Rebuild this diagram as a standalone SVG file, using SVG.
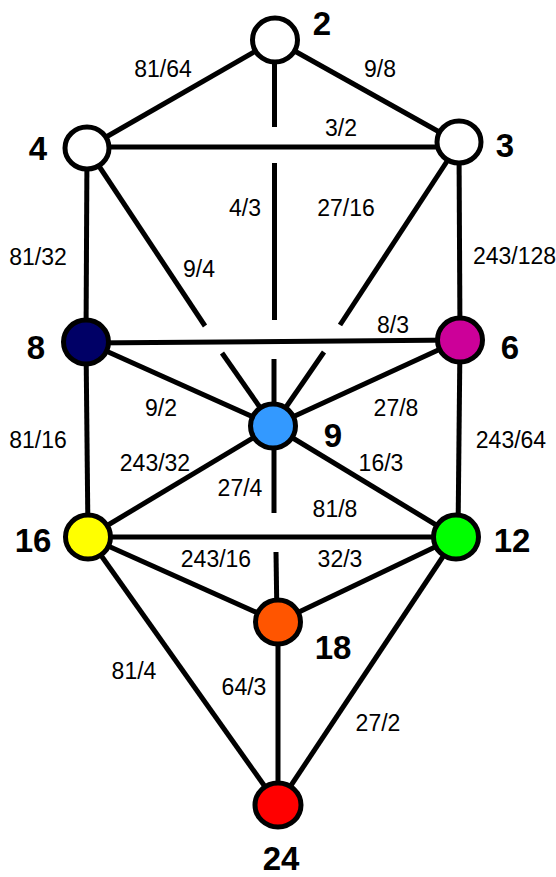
<svg xmlns="http://www.w3.org/2000/svg" width="556" height="877" viewBox="0 0 556 877">
<style>
.e{stroke:#000;stroke-width:5;fill:none;stroke-linecap:butt}
.n{stroke:#000;stroke-width:5}
.nl{font-family:"Liberation Sans",Arial,sans-serif;font-weight:bold;font-size:33px;fill:#000;text-anchor:middle}
.el{font-family:"Liberation Sans",Arial,sans-serif;font-size:23px;fill:#000;text-anchor:middle}
</style>
<rect width="556" height="877" fill="#fff"/>
<g id="connectors">
<line class="e" x1="275" y1="40" x2="87" y2="148"/>
<line class="e" x1="275" y1="40" x2="459" y2="143"/>
<line class="e" x1="87" y1="147" x2="459" y2="147"/>
<line class="e" x1="274.5" y1="40" x2="274.5" y2="127"/>
<line class="e" x1="274.5" y1="163" x2="274.5" y2="320"/>
<line class="e" x1="274" y1="359" x2="274" y2="426"/>
<line class="e" x1="87" y1="148" x2="205" y2="326"/>
<line class="e" x1="222" y1="353" x2="273" y2="426"/>
<line class="e" x1="459" y1="143" x2="340" y2="325"/>
<line class="e" x1="324" y1="352" x2="273" y2="426"/>
<line class="e" x1="87" y1="148" x2="86" y2="342"/>
<line class="e" x1="459" y1="143" x2="460" y2="340"/>
<line class="e" x1="86" y1="343" x2="460" y2="340"/>
<line class="e" x1="86" y1="342" x2="273" y2="426"/>
<line class="e" x1="460" y1="340" x2="273" y2="426"/>
<line class="e" x1="86" y1="342" x2="88" y2="537"/>
<line class="e" x1="460" y1="340" x2="458" y2="537"/>
<line class="e" x1="273" y1="426" x2="88" y2="537"/>
<line class="e" x1="273" y1="426" x2="456" y2="537"/>
<line class="e" x1="274" y1="426" x2="274" y2="513"/>
<line class="e" x1="276" y1="552" x2="277" y2="622"/>
<line class="e" x1="88" y1="537" x2="456" y2="537"/>
<line class="e" x1="88" y1="537" x2="278" y2="622"/>
<line class="e" x1="456" y1="537" x2="278" y2="622"/>
<line class="e" x1="88" y1="537" x2="278" y2="805"/>
<line class="e" x1="456" y1="537" x2="278" y2="805"/>
<line class="e" x1="278" y1="622" x2="278" y2="805"/>
</g>
<g id="edge-labels">
<text class="el" x="163" y="77">81/64</text>
<text class="el" x="380" y="77">9/8</text>
<text class="el" x="341" y="136">3/2</text>
<text class="el" x="245" y="216">4/3</text>
<text class="el" x="346" y="216">27/16</text>
<text class="el" x="38" y="265">81/32</text>
<text class="el" x="199" y="277">9/4</text>
<text class="el" x="473" y="264" style="text-anchor:start">243/128</text>
<text class="el" x="393" y="333">8/3</text>
<text class="el" x="161" y="416">9/2</text>
<text class="el" x="396" y="416">27/8</text>
<text class="el" x="38" y="448">81/16</text>
<text class="el" x="155" y="471">243/32</text>
<text class="el" x="511" y="448">243/64</text>
<text class="el" x="381" y="471">16/3</text>
<text class="el" x="240" y="496">27/4</text>
<text class="el" x="335" y="517">81/8</text>
<text class="el" x="216" y="567">243/16</text>
<text class="el" x="340" y="567">32/3</text>
<text class="el" x="134" y="679">81/4</text>
<text class="el" x="244" y="695">64/3</text>
<text class="el" x="378" y="731">27/2</text>
</g>
<g id="node-2"><ellipse class="n" cx="275" cy="40" rx="22.5" ry="22" fill="#fff"/><text class="nl" x="322" y="35">2</text></g>
<g id="node-4"><ellipse class="n" cx="87" cy="148" rx="22" ry="21" fill="#fff"/><text class="nl" x="38" y="160">4</text></g>
<g id="node-3"><ellipse class="n" cx="459" cy="142" rx="22" ry="21" fill="#fff"/><text class="nl" x="505" y="157">3</text></g>
<g id="node-8"><ellipse class="n" cx="86" cy="342" rx="22.5" ry="22" fill="#000066"/><text class="nl" x="36" y="359">8</text></g>
<g id="node-6"><ellipse class="n" cx="460" cy="340" rx="22.5" ry="22" fill="#CC0099"/><text class="nl" x="510" y="359">6</text></g>
<g id="node-9"><ellipse class="n" cx="273" cy="426" rx="22.5" ry="22" fill="#3399FF"/><text class="nl" x="333" y="447">9</text></g>
<g id="node-16"><ellipse class="n" cx="88" cy="537" rx="22.5" ry="22" fill="#FFFF00"/><text class="nl" x="33" y="552">16</text></g>
<g id="node-12"><ellipse class="n" cx="456" cy="537" rx="22.5" ry="22" fill="#00FF00"/><text class="nl" x="512" y="552">12</text></g>
<g id="node-18"><ellipse class="n" cx="278" cy="622" rx="22.5" ry="22" fill="#FF5500"/><text class="nl" x="333" y="659">18</text></g>
<g id="node-24"><ellipse class="n" cx="278" cy="805" rx="23" ry="22" fill="#FF0000"/><text class="nl" x="281" y="870">24</text></g>
</svg>
